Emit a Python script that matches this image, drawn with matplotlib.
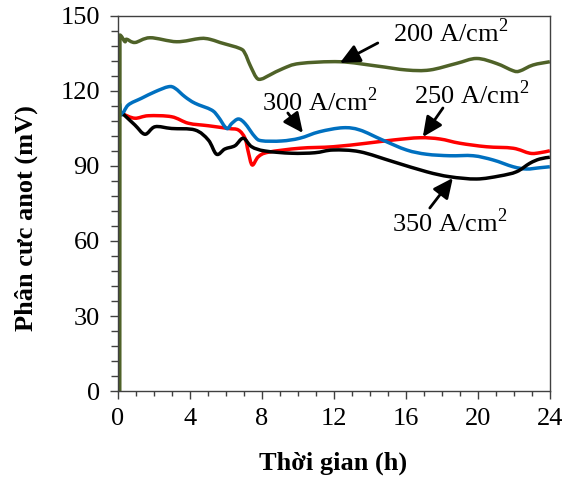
import matplotlib
matplotlib.use("Agg")
import matplotlib.pyplot as plt
from matplotlib.ticker import MultipleLocator
from matplotlib.path import Path
from matplotlib.patches import PathPatch

plt.rcParams['font.family'] = ['Liberation Serif', 'DejaVu Serif']
plt.rcParams['mathtext.fontset'] = 'custom'
plt.rcParams['mathtext.rm'] = 'Liberation Serif'

# 200 A/cm2 (first point is the start of the vertical rise)
t200 = [0.1, 0.11, 0.2, 0.39, 0.48, 0.94, 1.78, 3.26, 4.56, 5.1, 5.67, 6.78, 7.06, 7.33, 7.7, 7.98,
        8.44, 9.18, 10.1, 12.33, 14.37, 16.04, 17.33, 18.8, 19.93, 21.04, 21.96, 22.33, 23.07, 24.0]
v200 = [0.0, 142.4, 141.8, 139.7, 140.7, 139.4, 141.3, 139.7, 141.0, 140.7, 139.4, 137.0, 135.0, 130.5,
        125.3, 124.8, 126.4, 129.0, 131.0, 131.7, 130.0, 128.4, 128.4, 131.0, 133.0, 131.0, 128.1, 128.0,
        130.4, 131.7]

# 300 A/cm2
t300 = [0.1, 0.2, 0.57, 1.31, 2.06, 2.8, 3.17, 3.72, 4.28, 5.2, 5.57, 6.04, 6.32, 6.69, 7.06, 7.61,
        7.98, 9.09, 10.1, 11.2, 12.5, 13.44, 14.7, 16.04, 17.15, 18.44, 19.74, 20.85, 21.96, 22.7,
        23.44, 24.0]
v300 = [115.0, 110.4, 114.4, 117.1, 119.7, 121.7, 121.1, 117.7, 115.1, 112.4, 109.7, 105.0, 107.0,
        108.8, 107.0, 101.7, 100.1, 100.0, 101.1, 103.7, 105.3, 104.4, 100.4, 96.4, 94.7, 94.1, 94.1,
        92.4, 89.7, 88.8, 89.3, 89.7]

# 250 A/cm2
t250 = [0.3, 0.94, 1.69, 2.98, 3.91, 5.02, 6.13, 6.69, 7.06, 7.24, 7.46, 7.8, 8.35, 10.1, 11.96,
        13.8, 15.3, 16.78, 17.89, 19.0, 20.48, 21.96, 22.89, 23.44, 24.0]
v250 = [110.7, 109.1, 110.1, 109.7, 107.1, 106.1, 105.0, 104.4, 101.1, 95.7, 90.4, 93.7, 95.5, 97.1,
        97.7, 99.1, 100.4, 101.3, 100.8, 99.1, 97.7, 97.1, 95.1, 95.3, 96.1]

# 350 A/cm2
t350 = [0.3, 0.94, 1.5, 2.06, 2.98, 4.28, 5.02, 5.48, 5.94, 6.5, 6.96, 7.43, 8.17, 9.65, 10.94,
        11.96, 13.44, 15.3, 17.15, 18.44, 19.93, 21.2, 22.15, 22.89, 23.44, 24.0]
v350 = [110.7, 106.4, 102.7, 105.7, 105.0, 104.4, 100.4, 94.7, 96.8, 98.1, 101.1, 97.7, 96.0, 95.1,
        95.3, 96.4, 95.7, 91.7, 87.7, 85.7, 84.8, 86.0, 87.7, 91.1, 92.8, 93.5]

xticks = [0, 4, 8, 12, 16, 20, 24]
yticks = [0, 30, 60, 90, 120, 150]
labels = ['200 A/cm$^2$', '300 A/cm$^2$', '250 A/cm$^2$', '350 A/cm$^2$']


def smooth_path(xs, ys, straight_first=False):
    """Excel-like smoothed line: Catmull-Rom segments as cubic Bezier curves."""
    pts = list(zip(xs, ys))
    verts = [pts[0]]
    codes = [Path.MOVETO]
    start = 0
    if straight_first:
        verts.append(pts[1])
        codes.append(Path.LINETO)
        start = 1
    cp = pts[start:]
    n = len(cp)
    for i in range(n - 1):
        p0 = cp[i - 1] if i > 0 else cp[i]
        p1 = cp[i]
        p2 = cp[i + 1]
        p3 = cp[i + 2] if i + 2 < n else cp[i + 1]
        c1 = (p1[0] + (p2[0] - p0[0]) / 6.0, p1[1] + (p2[1] - p0[1]) / 6.0)
        c2 = (p2[0] - (p3[0] - p1[0]) / 6.0, p2[1] - (p3[1] - p1[1]) / 6.0)
        verts += [c1, c2, p2]
        codes += [Path.CURVE4] * 3
    return Path(verts, codes)


fig = plt.figure(figsize=(5.68, 4.8), dpi=100)
ax = fig.add_axes([0.2077, 0.1854, 0.7603, 0.7813])

lw = 2.5
series = [
    (t250, v250, '#FF0000', False),
    (t300, v300, '#0070C0', False),
    (t350, v350, 'black', False),
    (t200, v200, '#4F6228', True),
]
for xs, ys, col, sf in series:
    patch = PathPatch(smooth_path(xs, ys, sf), facecolor='none', edgecolor=col, lw=lw,
                      joinstyle='round', capstyle='butt')
    ax.add_patch(patch)

ax.set_xlim(0, 24)
ax.set_ylim(0, 150)
ax.set_xticks(xticks)
ax.set_yticks(yticks)
ax.xaxis.set_minor_locator(MultipleLocator(1))
ax.yaxis.set_minor_locator(MultipleLocator(6))
ax.tick_params(axis='both', which='both', direction='out', labelsize=19, color='#404040', width=1)
ax.tick_params(axis='x', which='major', length=6, pad=6)
ax.tick_params(axis='x', which='minor', length=3.5)
ax.tick_params(axis='y', which='major', length=6, pad=7)
ax.tick_params(axis='y', which='minor', length=5)
for s in ax.spines.values():
    s.set_color('#404040')
    s.set_linewidth(1)

ax.set_xlabel('Thời gian (h)', fontsize=19, fontweight='bold')
ax.set_ylabel('Phân cưc anot (mV)', fontsize=19, fontweight='bold')
ax.xaxis.label.set_va('center')
ax.xaxis.set_label_coords(0.497, -0.192)
ax.yaxis.label.set_va('center')
ax.yaxis.set_label_coords(-0.213, 0.46)

arrow = dict(arrowstyle='-|>,head_length=0.6,head_width=0.28', color='black', lw=2,
             mutation_scale=20, shrinkA=0, shrinkB=0)
label_pos = [(18.47, 143.2), (11.22, 115.6), (19.64, 118.4), (18.44, 67.2)]
arrow_tail = [(14.44, 139.2), (9.44, 111.2), (18.06, 113.2), (17.33, 73.2)]
arrow_head = [(12.33, 131.2), (10.28, 103.2), (16.94, 101.6), (18.61, 85.2)]
for txt, pos, tail, head in zip(labels, label_pos, arrow_tail, arrow_head):
    ax.text(pos[0], pos[1], txt, fontsize=19, ha='center', va='center')
    ax.annotate('', xy=head, xytext=tail, arrowprops=arrow)

fig.savefig('out.png', dpi=100)
